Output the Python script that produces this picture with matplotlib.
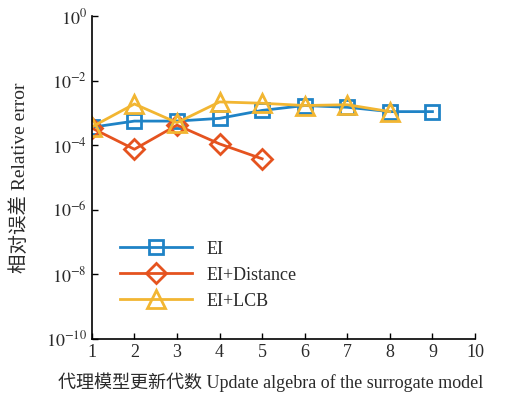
import matplotlib
matplotlib.use("Agg")
import matplotlib.pyplot as plt
import numpy as np

plt.rcParams['font.family'] = ['Liberation Serif', 'Noto Sans CJK SC']
plt.rcParams['mathtext.fontset'] = 'stix'

gen_ei = [1, 2, 3, 4, 5, 6, 7, 8, 9]
err_ei = [3.6e-4, 5.6e-4, 5.6e-4, 6.8e-4, 1.2e-3, 1.7e-3, 1.5e-3, 1.1e-3, 1.1e-3]
gen_dist = [1, 2, 3, 4, 5]
err_dist = [3.4e-4, 7.5e-5, 4.2e-4, 1.1e-4, 3.8e-5]
gen_lcb = [1, 2, 3, 4, 5, 6, 7, 8]
err_lcb = [3.7e-4, 1.9e-3, 5.0e-4, 2.2e-3, 2.0e-3, 1.7e-3, 1.8e-3, 1.1e-3]

labels = ['EI', 'EI+Distance', 'EI+LCB']
colors = ['#1f83c6', '#e5531f', '#f2b632']
txt = '#2a2a2a'

fig = plt.figure(figsize=(5.13, 3.94), dpi=100)
ax = fig.add_axes([0.179, 0.140, 0.747, 0.819])

ax.plot(gen_ei, err_ei, '-s', color=colors[0], lw=2, ms=9.5, mfc='none', mew=2, label=labels[0])
ax.plot(gen_dist, err_dist, '-D', color=colors[1], lw=2, ms=10, mfc='none', mew=2, label=labels[1])
ax.plot(gen_lcb, err_lcb, '-^', color=colors[2], lw=2, ms=13, mfc='none', mew=2, label=labels[2])

ax.set_yscale('log')
ax.set_xlim(1, 10)
ax.set_ylim(1e-10, 1)
ax.set_xticks(range(1, 11))
ax.set_yticks([10.0**k for k in range(-10, 1, 2)])
ax.set_yticklabels([r'$10^{%d}$' % k for k in range(-10, 1, 2)])
ax.minorticks_off()
ax.tick_params(direction='in', labelsize=13, length=4, width=1, labelcolor=txt)
for s in ['top', 'right']:
    ax.spines[s].set_visible(False)
for s in ['left', 'bottom']:
    ax.spines[s].set_linewidth(1.2)

ax.set_xlabel('代理模型更新代数 Update algebra of the surrogate model', fontsize=13, color=txt)
ax.xaxis.set_label_coords(0.466, -0.105)
ax.set_ylabel('相对误差 Relative error', fontsize=14, color=txt, labelpad=12)

leg = ax.legend(loc='lower left', bbox_to_anchor=(0.03, 0.04), frameon=False, fontsize=13,
                handlelength=4.0, handletextpad=0.8, labelspacing=0.5)
for t in leg.get_texts():
    t.set_color(txt)

fig.savefig('out.png', dpi=100)
